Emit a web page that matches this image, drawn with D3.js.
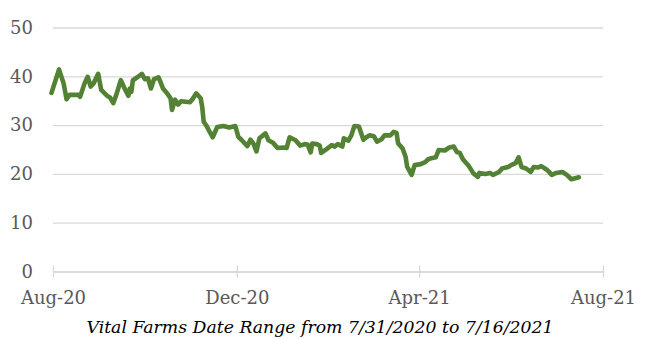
<!DOCTYPE html>
<html>
<head>
<meta charset="utf-8">
<script src="https://cdn.jsdelivr.net/npm/d3@7"></script>
<style>
  body { margin: 0; background: #fff; }
  svg { display: block; }
</style>
</head>
<body>
<div id="chart"></div>
<script>
// Closing prices.
const dates = [
  '2020-07-31', '2020-08-05', '2020-08-08', '2020-08-10', '2020-08-12', '2020-08-18',
  '2020-08-19', '2020-08-22', '2020-08-24', '2020-08-26', '2020-08-28', '2020-08-31',
  '2020-09-02', '2020-09-06', '2020-09-08', '2020-09-10', '2020-09-12', '2020-09-15',
  '2020-09-18', '2020-09-20', '2020-09-21', '2020-09-22', '2020-09-23', '2020-09-26',
  '2020-09-29', '2020-10-01', '2020-10-03', '2020-10-05', '2020-10-07', '2020-10-10',
  '2020-10-11', '2020-10-13', '2020-10-16', '2020-10-18', '2020-10-19', '2020-10-21',
  '2020-10-23', '2020-10-25', '2020-10-31', '2020-11-02', '2020-11-04', '2020-11-07',
  '2020-11-08', '2020-11-09', '2020-11-11', '2020-11-13', '2020-11-15', '2020-11-18',
  '2020-11-22', '2020-11-26', '2020-11-30', '2020-12-02', '2020-12-04', '2020-12-08',
  '2020-12-10', '2020-12-12', '2020-12-14', '2020-12-16', '2020-12-20', '2020-12-22',
  '2020-12-25', '2020-12-28', '2021-01-01', '2021-01-03', '2021-01-05', '2021-01-09',
  '2021-01-12', '2021-01-15', '2021-01-17', '2021-01-19', '2021-01-20', '2021-01-23',
  '2021-01-25', '2021-01-26', '2021-01-30', '2021-02-02', '2021-02-04', '2021-02-06',
  '2021-02-09', '2021-02-10', '2021-02-13', '2021-02-15', '2021-02-17', '2021-02-20',
  '2021-02-23', '2021-02-25', '2021-02-27', '2021-03-02', '2021-03-04', '2021-03-07',
  '2021-03-09', '2021-03-13', '2021-03-15', '2021-03-17', '2021-03-18', '2021-03-21',
  '2021-03-23', '2021-03-24', '2021-03-27', '2021-03-29', '2021-04-02', '2021-04-05',
  '2021-04-07', '2021-04-09', '2021-04-12', '2021-04-14', '2021-04-18', '2021-04-21',
  '2021-04-24', '2021-04-26', '2021-04-28', '2021-04-30', '2021-05-04', '2021-05-07',
  '2021-05-10', '2021-05-11', '2021-05-15', '2021-05-18', '2021-05-20', '2021-05-24',
  '2021-05-26', '2021-05-30', '2021-06-01', '2021-06-04', '2021-06-06', '2021-06-08',
  '2021-06-11', '2021-06-14', '2021-06-16', '2021-06-19', '2021-06-21', '2021-06-25',
  '2021-06-28', '2021-07-01', '2021-07-05', '2021-07-08', '2021-07-11', '2021-07-16'
];
const prices = [
  36.6, 41.4, 38.6, 35.3, 36.2, 36.2,
  35.8, 38.6, 39.9, 37.9, 38.6, 40.5,
  37.2, 36.0, 35.6, 34.5, 36.2, 39.2,
  37.2, 36.0, 37.5, 36.8, 39.2, 39.8,
  40.5, 39.4, 39.6, 37.5, 39.4, 39.8,
  39.1, 37.5, 36.4, 35.5, 33.1, 35.2,
  34.2, 34.9, 34.7, 35.5, 36.5, 35.5,
  33.8, 30.7, 29.8, 28.6, 27.5, 29.6,
  29.8, 29.5, 29.8, 27.6, 27.0, 25.7,
  27.0, 26.2, 24.6, 27.3, 28.3, 26.9,
  26.4, 25.3, 25.4, 25.3, 27.5, 26.9,
  25.8, 26.1, 26.0, 24.4, 26.2, 26.1,
  25.8, 24.3, 25.2, 25.9, 25.6, 26.1,
  25.6, 27.3, 26.8, 27.9, 29.8, 29.7,
  27.0, 27.5, 27.9, 27.7, 26.6, 27.1,
  27.9, 27.9, 28.6, 28.4, 26.3, 25.2,
  23.5, 21.5, 19.8, 21.8, 22.0, 22.4,
  23.0, 23.2, 23.4, 24.9, 24.8, 25.4,
  25.6, 24.5, 24.3, 23.0, 21.6, 20.1,
  19.4, 20.2, 20.0, 20.2, 19.8, 20.4,
  21.1, 21.4, 21.8, 22.2, 23.4, 21.4,
  21.1, 20.4, 21.4, 21.3, 21.6, 20.8,
  19.8, 20.2, 20.4, 19.8, 18.9, 19.3
];
const yTicks = [0, 10, 20, 30, 40, 50];
const xTickDates = ['2020-08-01', '2020-12-01', '2021-04-01', '2021-08-01'];
const xTickLabels = ['Aug-20', 'Dec-20', 'Apr-21', 'Aug-21'];
const axisTitle = 'Vital Farms Date Range from 7/31/2020 to 7/16/2021';

const width = 649, height = 339;
const margin = { top: 27.5, right: 46, bottom: 67.5, left: 53 };
const parse = d3.timeParse('%Y-%m-%d');

const data = dates.map((d, i) => ({ date: parse(d), value: prices[i] }));

const x = d3.scaleTime()
    .domain([parse(xTickDates[0]), parse(xTickDates[xTickDates.length - 1])])
    .range([margin.left, width - margin.right]);
const y = d3.scaleLinear()
    .domain([0, 50])
    .range([height - margin.bottom, margin.top]);

const svg = d3.select('#chart')
    .append('svg')
    .attr('width', width)
    .attr('height', height);

const gridColor = '#d9d9d9';
const textColor = '#595959';
const font = '"DejaVu Serif", "Liberation Serif", serif';

// Horizontal gridlines + y labels.
const yAxis = svg.append('g')
    .attr('transform', `translate(${margin.left},0)`)
    .call(d3.axisLeft(y).tickValues(yTicks).tickSize(-(width - margin.left - margin.right)).tickPadding(20));
yAxis.select('.domain').remove();
yAxis.selectAll('.tick line').attr('stroke', gridColor).attr('stroke-width', 1.3);
yAxis.selectAll('.tick text')
    .attr('fill', textColor)
    .style('font-family', font)
    .style('font-size', '18px');

// Date axis along the zero line.
const xAxis = svg.append('g')
    .attr('transform', `translate(0,${y(0)})`)
    .call(d3.axisBottom(x)
        .tickValues(xTickDates.map(parse))
        .tickFormat((d, i) => xTickLabels[i])
        .tickSize(6)
        .tickSizeOuter(0)
        .tickPadding(14));
xAxis.select('.domain').attr('stroke', gridColor).attr('stroke-width', 1.3);
xAxis.selectAll('.tick line')
    .attr('stroke', gridColor)
    .attr('stroke-width', 1.3)
    .attr('y1', -6);
xAxis.selectAll('.tick text')
    .attr('fill', textColor)
    .style('font-family', font)
    .style('font-size', '18px');

// Price line.
const line = d3.line()
    .x((d) => x(d.date))
    .y((d) => y(d.value));

svg.append('path')
    .datum(data)
    .attr('fill', 'none')
    .attr('stroke', '#548235')
    .attr('stroke-width', 4.6)
    .attr('stroke-linejoin', 'round')
    .attr('stroke-linecap', 'round')
    .attr('d', line);

svg.append('text')
    .attr('x', 320)
    .attr('y', 333)
    .attr('text-anchor', 'middle')
    .attr('fill', '#000')
    .style('font-family', font)
    .style('font-style', 'italic')
    .style('font-size', '17.3px')
    .text(axisTitle);
</script>
</body>
</html>
